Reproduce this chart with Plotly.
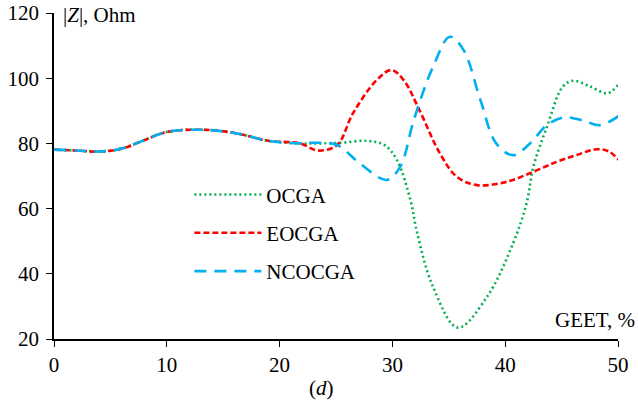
import plotly.graph_objects as go

# Common segment (all three methods coincide)
x_common = [0, 2, 4, 6, 8, 10, 13, 16, 19, 21.8]
y_common = [78.1, 77.8, 77.5, 78.4, 81.0, 83.5, 84.2, 83.2, 80.8, 80.0]

x_ocga = [23.5, 25.5, 27.7, 29.3, 30.4, 31.6, 32.2, 33.6, 35.8, 38.4, 40.7, 41.9, 42.5, 43.7, 45.1, 46.0, 47.5, 49.1, 50.2]
y_ocga = [80.0, 80.2, 80.8, 79.5, 74.9, 62.6, 52.5, 36.0, 23.5, 33.0, 49.4, 61.7, 72.9, 85.1, 97.4, 99.2, 97.5, 95.4, 98.9]

x_eocga = [23.4, 25.1, 26.5, 28.6, 29.9, 31.0, 32.4, 34.2, 35.7, 37.5, 40.1, 42.5, 44.6, 46.3, 48.1, 49.2, 50.2]
y_eocga = [77.8, 79.5, 89.2, 99.4, 102.5, 99.4, 90.2, 77.0, 69.8, 67.2, 68.2, 71.3, 74.4, 76.4, 78.2, 77.5, 74.4]

x_ncocga = [23.0, 25.1, 27.1, 29.5, 30.7, 31.9, 33.6, 35.1, 36.3, 37.8, 39.2, 40.7, 42.2, 43.7, 45.2, 46.9, 48.4, 50.2]
y_ncocga = [80.2, 79.5, 73.9, 68.8, 72.9, 87.2, 103.5, 112.7, 108.7, 93.3, 80.0, 76.4, 80.0, 85.6, 88.0, 87.0, 85.6, 88.7]

names = ["OCGA", "EOCGA", "NCOCGA"]
colors = ["#00B050", "#FF0000", "#00B0F0"]
dashes = ["2px,3px", "6px,3px", "12px,8px"]
xs = [x_ocga, x_eocga, x_ncocga]
ys = [y_ocga, y_eocga, y_ncocga]

x_ticks = [0, 10, 20, 30, 40, 50]
y_ticks = [20, 40, 60, 80, 100, 120]

FONT = "Liberation Serif, Times New Roman, serif"
FS = 21

fig = go.Figure()
for i in range(3):
    fig.add_trace(go.Scatter(
        x=x_common + xs[i], y=y_common + ys[i], mode="lines", name=names[i],
        legendgroup=names[i],
        line=dict(color=colors[i], width=2.6, dash=dashes[i], shape="spline", smoothing=1.0),
    ))

fig.update_layout(
    width=638, height=414,
    margin=dict(l=54, r=20, t=13, b=75, autoexpand=False),
    paper_bgcolor="white", plot_bgcolor="white",
    font=dict(family=FONT, size=FS, color="black"),
    showlegend=True,
    legend=dict(x=0.24, y=0.505, xanchor="left", yanchor="top",
                bgcolor="rgba(0,0,0,0)", traceorder="grouped",
                tracegroupgap=8, itemwidth=67,
                font=dict(family=FONT, size=FS, color="black")),
    xaxis=dict(range=[0, 50], tickvals=x_ticks, showgrid=False, zeroline=False,
               showline=True, linecolor="black", linewidth=1.5, automargin=False,
               ticks="outside", ticklen=6, tickcolor="black", tickwidth=1.3,
               tickfont=dict(family=FONT, size=FS)),
    yaxis=dict(range=[20, 120], tickvals=y_ticks, showgrid=False, zeroline=False,
               showline=True, linecolor="black", linewidth=1.5, automargin=False,
               ticks="outside", ticklen=6, tickcolor="black", tickwidth=1.3,
               ticklabelstandoff=3,
               tickfont=dict(family=FONT, size=FS)),
    annotations=[
        dict(text="|<i>Z</i>|, Ohm", x=0.012, y=1.0, xref="paper", yref="paper",
             xanchor="left", yanchor="middle", yshift=-2, showarrow=False,
             font=dict(family=FONT, size=FS)),
        dict(text="GEET, %", x=1.034, y=0.0, xref="paper", yref="paper",
             xanchor="right", yanchor="middle", yshift=19, showarrow=False,
             font=dict(family=FONT, size=FS)),
        dict(text="(<i>d</i>)", x=0.475, y=0, xref="paper", yref="paper",
             xanchor="center", yanchor="middle", yshift=-49, showarrow=False,
             font=dict(family=FONT, size=FS)),
    ],
)

fig.write_html("out.html")
